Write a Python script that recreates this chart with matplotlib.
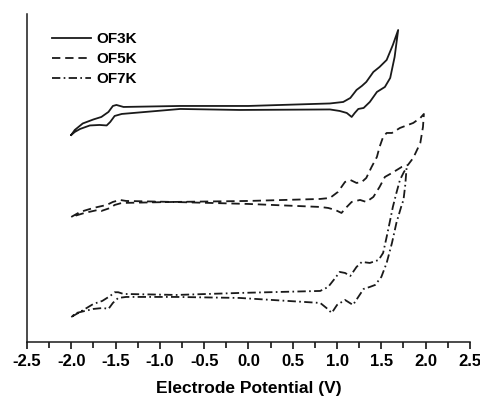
import numpy as np
import matplotlib.pyplot as plt

plt.rcParams['font.family'] = ['Liberation Sans', 'DejaVu Sans']
plt.rcParams['font.weight'] = 'bold'
plt.rcParams['lines.scale_dashes'] = False

# cyclic voltammograms, current in arbitrary (offset) units
of3k_v = [-2.00, -1.96, -1.87, -1.75, -1.66, -1.58, -1.53, -1.49, -1.41, -0.77, 0.00, 0.92,
          1.07, 1.15, 1.22, 1.28, 1.33, 1.41, 1.48, 1.56, 1.63, 1.69,
          1.65, 1.60, 1.54, 1.45, 1.37, 1.30, 1.24, 1.20, 1.165, 1.11, 1.03, 0.92,
          -0.10, -0.77, -1.43, -1.51, -1.56, -1.60, -1.68, -1.79, -1.90, -1.96, -2.00]
of3k_i = [207, 212, 218.5, 222.5, 225, 230, 236, 237, 235, 236, 236, 238.5,
          240, 244, 252, 256, 260, 270, 275, 282, 297, 312,
          285, 264, 255, 250, 240, 234, 233, 229, 225, 229, 231, 232.5,
          232, 233, 228, 226, 220, 216.5, 217, 216.5, 213, 210, 207]

of5k_v = [-2.00, -1.90, -1.75, -1.60, -1.53, -1.45, -1.38, -0.85, 0.00, 0.81, 0.92, 1.01,
          1.09, 1.15, 1.22, 1.28, 1.33, 1.39, 1.45, 1.48, 1.52, 1.56, 1.62, 1.71, 1.86,
          1.94, 1.98,
          1.97, 1.94, 1.86, 1.80, 1.73, 1.62, 1.54, 1.48, 1.41, 1.33, 1.26, 1.165, 1.11,
          1.05, 0.98, 0.90, 0.81, 0.00, -0.85, -1.43, -1.51, -1.56, -1.66, -1.70, -1.85,
          -2.00]
of5k_i = [125, 130, 134, 137, 140, 142, 141, 140, 141, 143, 144, 150,
          160, 162, 159, 160, 164, 175, 185, 195, 205, 209, 209, 214, 219,
          224, 228,
          215, 199, 184, 177, 175, 169, 165, 155, 145, 140, 142, 140, 135,
          129, 132, 134, 135, 138, 140, 139, 137, 134, 131, 132, 129,
          125]

of7k_v = [-2.00, -1.90, -1.75, -1.65, -1.56, -1.51, -1.47, -1.41, -0.81, -0.10, 0.81, 0.90,
          0.98, 1.03, 1.09, 1.15, 1.22, 1.28, 1.37, 1.47, 1.52, 1.56, 1.60, 1.63, 1.67,
          1.71, 1.755, 1.785,
          1.77, 1.75, 1.73, 1.67, 1.62, 1.56, 1.50, 1.43, 1.37, 1.30, 1.24, 1.18, 1.09,
          1.00, 0.94, 0.88, 0.81, -0.10, -0.81, -1.38, -1.47, -1.53, -1.58, -1.64, -1.75,
          -1.94, -2.00]
of7k_i = [25, 30, 38, 41, 46, 49.7, 49.7, 48, 47, 49, 51, 55,
          64, 70, 69, 66, 75, 80, 79, 82, 89, 105, 122, 135, 149,
          162, 170, 174,
          157, 142, 137, 119, 99, 79, 65, 57, 55, 53, 45, 37, 42,
          37, 29, 34, 39, 44, 45, 45, 44, 39, 33, 34, 33,
          29, 25]

fig = plt.figure(figsize=(4.81, 3.99), dpi=100)
ax = fig.add_axes([0.056, 0.143, 0.921, 0.822])

col = '#1a1a1a'
ax.plot(of3k_v, of3k_i, color=col, lw=1.3, ls='-', label='OF3K')
ax.plot(of5k_v, of5k_i, color=col, lw=1.3, ls=(0, (6, 3.5)), label='OF5K')
ax.plot(of7k_v, of7k_i, color=col, lw=1.3, ls=(0, (6, 2.4, 1.2, 2.4)), label='OF7K')

ax.set_xlim(-2.5, 2.5)
ax.set_ylim(0, 328)
ax.set_xticks(np.arange(-2.5, 2.51, 0.5))
ax.set_xticks(np.arange(-2.25, 2.5, 0.5), minor=True)
ax.set_xticklabels(['%.1f' % t for t in np.arange(-2.5, 2.51, 0.5)], fontsize=12, fontweight='bold')
ax.set_yticks([])
ax.tick_params(axis='x', which='major', direction='out', length=5, width=1.1, pad=4)
ax.tick_params(axis='x', which='minor', direction='out', length=4, width=1.1)
for s in ['top', 'right']:
    ax.spines[s].set_visible(False)
for s in ['left', 'bottom']:
    ax.spines[s].set_linewidth(1.1)
    ax.spines[s].set_color(col)

ax.set_xlabel('Electrode Potential (V)', fontsize=12.5, fontweight='bold', labelpad=8)

ax.legend(loc='upper left', bbox_to_anchor=(0.056, 0.945), frameon=False,
          prop={'size': 11, 'weight': 'bold'}, handlelength=2.6, handletextpad=0.33,
          labelspacing=0.4, borderpad=0, borderaxespad=0)

fig.savefig('out.png', dpi=100)
